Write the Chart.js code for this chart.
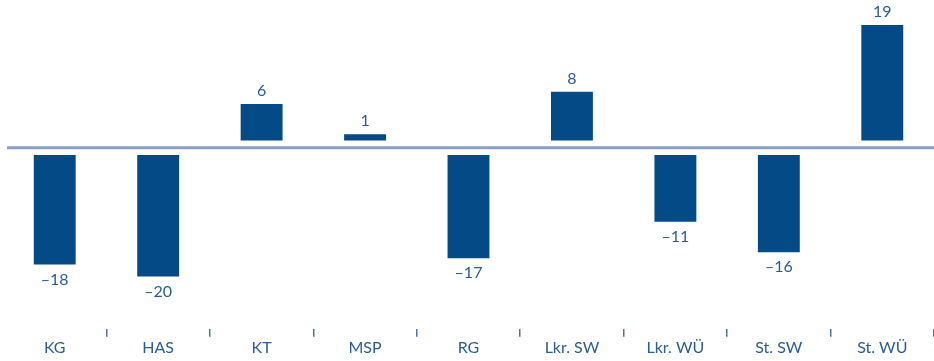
<!DOCTYPE html>
<html>
<head>
<meta charset="utf-8">
<script src="https://cdn.jsdelivr.net/npm/chart.js@4.4.1/dist/chart.umd.min.js"></script>
<style>
  html, body { margin: 0; padding: 0; background: #fff; }
  #wrap { width: 934px; height: 361px; position: relative; }
</style>
</head>
<body>
<div id="wrap"><canvas id="saldoChart"></canvas></div>
<script>
const regions = ["KG", "HAS", "KT", "MSP", "RG", "Lkr. SW", "Lkr. WÜ", "St. SW", "St. WÜ"];
const saldo = [-18, -20, 6, 1, -17, 8, -11, -16, 19];

// bars sit slightly off the zero line, so each one floats from +/-GAP
const GAP = 1.2;
const BAR_BLUE = "#034a87";
const TEXT_BLUE = "#2b5c94";
const FONT = "Lato, 'Open Sans', sans-serif";

const floating = saldo.map(v => v >= 0 ? [GAP, v + GAP] : [-GAP, v - GAP]);

const zeroLine = {
  id: "zeroLine",
  beforeDatasetsDraw(chart) {
    const { ctx, chartArea, scales } = chart;
    const y = scales.y.getPixelForValue(0);
    ctx.save();
    ctx.strokeStyle = "#8a9dc7";
    ctx.lineWidth = 3;
    ctx.beginPath();
    ctx.moveTo(chartArea.left + 4, y);
    ctx.lineTo(chartArea.right, y);
    ctx.stroke();
    ctx.restore();
  }
};

const valueLabels = {
  id: "valueLabels",
  afterDatasetsDraw(chart) {
    const { ctx } = chart;
    const meta = chart.getDatasetMeta(0);
    ctx.save();
    ctx.fillStyle = TEXT_BLUE;
    ctx.font = "16px " + FONT;
    ctx.textAlign = "center";
    ctx.textBaseline = "middle";
    meta.data.forEach((bar, i) => {
      const v = saldo[i];
      const text = v < 0 ? "\u2013" + Math.abs(v) : String(v);
      const y = v < 0 ? bar.y + 15 : bar.y - 13;
      ctx.fillText(text, bar.x, y);
    });
    ctx.restore();
  }
};

new Chart(document.getElementById("saldoChart"), {
  type: "bar",
  data: {
    labels: regions,
    datasets: [{
      data: floating,
      backgroundColor: BAR_BLUE,
      borderWidth: 0,
      barPercentage: 0.405,
      categoryPercentage: 1
    }]
  },
  options: {
    responsive: true,
    maintainAspectRatio: false,
    animation: false,
    layout: { padding: { left: 3, right: 0, top: 0, bottom: 3 } },
    plugins: {
      legend: { display: false },
      tooltip: { enabled: false }
    },
    scales: {
      x: {
        offset: true,
        border: { display: false },
        grid: {
          offset: true,
          drawOnChartArea: false,
          tickLength: 8,
          lineWidth: 1.5,
          color: ctx => (ctx.index === 0 || ctx.index === regions.length) ? "rgba(0,0,0,0)" : "#4a74a8"
        },
        ticks: {
          color: TEXT_BLUE,
          font: { family: FONT, size: 16 },
          padding: 1,
          maxRotation: 0
        }
      },
      y: {
        display: false,
        min: -29.8,
        max: 24.3
      }
    }
  },
  plugins: [zeroLine, valueLabels]
});
</script>
</body>
</html>
